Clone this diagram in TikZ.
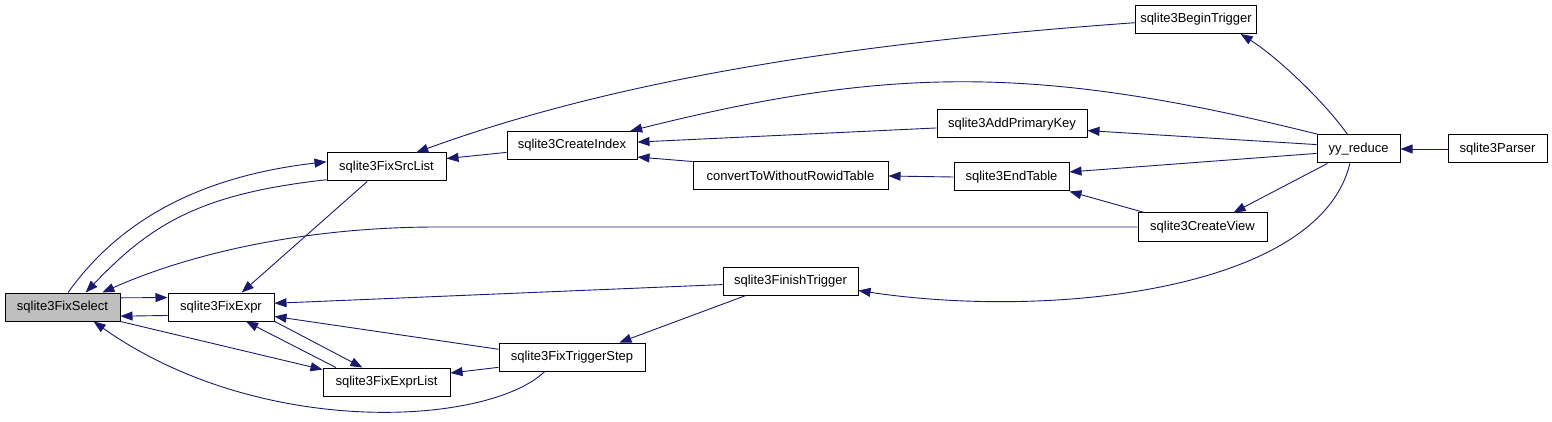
\documentclass[tikz,border=0pt]{standalone}
\usepackage{fontspec}
\setmainfont{Liberation Sans}
\usetikzlibrary{arrows.meta}
\definecolor{edgeblue}{HTML}{191970}
\definecolor{curfn}{HTML}{BFBFBF}

\begin{document}
\begin{tikzpicture}[x=1pt, y=-1pt,
			fn/.style={rectangle, draw=black, line width=1pt, fill=white, minimum height=28pt, inner sep=0pt, font=\fontsize{13}{15}\selectfont},
			call/.style={draw=edgeblue, line width=0.9pt, -{Triangle[length=12pt, width=9pt, fill=edgeblue]}},
		]
		\useasboundingbox (0,0) rectangle (1552,422);

		\node[fn, fill=curfn, minimum width=115] (selectfn)  at (62.5, 307)  {sqlite3FixSelect};
		\node[fn, minimum width=106] (fixexpr)    at (221, 307)    {sqlite3FixExpr};
		\node[fn, minimum width=119] (srclist)    at (386.5, 167)  {sqlite3FixSrcList};
		\node[fn, minimum width=127] (exprlist)   at (386.5, 382)  {sqlite3FixExprList};
		\node[fn, minimum width=130] (createidx)  at (572, 145.5)  {sqlite3CreateIndex};
		\node[fn, minimum width=146] (trigstep)   at (572, 357)    {sqlite3FixTriggerStep};
		\node[fn, minimum width=195] (convwr)     at (790.5, 176)  {convertToWithoutRowidTable};
		\node[fn, minimum width=135] (finishtrig) at (790.5, 281)  {sqlite3FinishTrigger};
		\node[fn, minimum width=150] (addpk)      at (1012, 124)   {sqlite3AddPrimaryKey};
		\node[fn, minimum width=115] (endtable)   at (1011.5, 177) {sqlite3EndTable};
		\node[fn, minimum width=121] (begintrig)  at (1196, 19.5)  {sqlite3BeginTrigger};
		\node[fn, minimum width=129] (createview) at (1202.5, 227) {sqlite3CreateView};
		\node[fn, minimum width=83]  (yyreduce)   at (1358.5, 149) {yy\_reduce};
		\node[fn, minimum width=99]  (parser)     at (1497.5, 149) {sqlite3Parser};

		% calls into sqlite3FixSelect
		\draw[call] (selectfn.69) .. controls +(50,-70) and +(-130,15) .. (srclist.175);
		\draw[call] (srclist.192) .. controls +(-127,14) and +(65,-68) .. (selectfn.32);
		\draw[call] (createview.west) -- ++(-700,0) .. controls +(-130,0) and +(90,-40) .. (selectfn.20);
		\draw[call] (selectfn.9) -- (fixexpr.170);
		\draw[call] (fixexpr.189) -- (selectfn.351);
		\draw[call] (selectfn.south east) -- (exprlist.169);
		\draw[call] (trigstep.208) .. controls +(-56,54) and +(167,118) .. (selectfn.335);

		% sqlite3FixExpr and sqlite3FixExprList
		\draw[call] (srclist.217) -- (fixexpr.35);
		\draw[call] (finishtrig.183) -- (fixexpr.4);
		\draw[call] (trigstep.174) -- (fixexpr.350);
		\draw[call] (exprlist.164) -- (fixexpr.330);
		\draw[call] (fixexpr.345) -- (exprlist.149);
		\draw[call] (trigstep.188) -- (exprlist.8);
		\draw[call] (finishtrig.198) -- (trigstep.17);

		% sqlite3FixSrcList and sqlite3CreateIndex
		\draw[call] (createidx.186) -- (srclist.8);
		\draw[call] (begintrig.183) .. controls +(-236,17) and +(225,-82) .. (srclist.26);
		\draw[call] (yyreduce.160) .. controls +(-280,-70) and +(260,-65) .. (createidx.14);
		\draw[call] (addpk.183) -- (createidx.3);
		\draw[call] (convwr.north west) -- (createidx.350);
		\draw[call] (endtable.west) -- (convwr.east);

		% yy_reduce
		\draw[call] (yyreduce.174) -- (addpk.355);
		\draw[call] (yyreduce.186) -- (endtable.5);
		\draw[call] (createview.166) -- (endtable.346);
		\draw[call] (yyreduce.205) -- (createview.25);
		\draw[call] (yyreduce.127) .. controls +(-25,-35) and +(35,22) .. (begintrig.342);
		\draw[call] (yyreduce.239) .. controls +(-30,127) and +(192,29) .. (finishtrig.352);
		\draw[call] (parser.west) -- (yyreduce.east);
	\end{tikzpicture}
\end{document}
